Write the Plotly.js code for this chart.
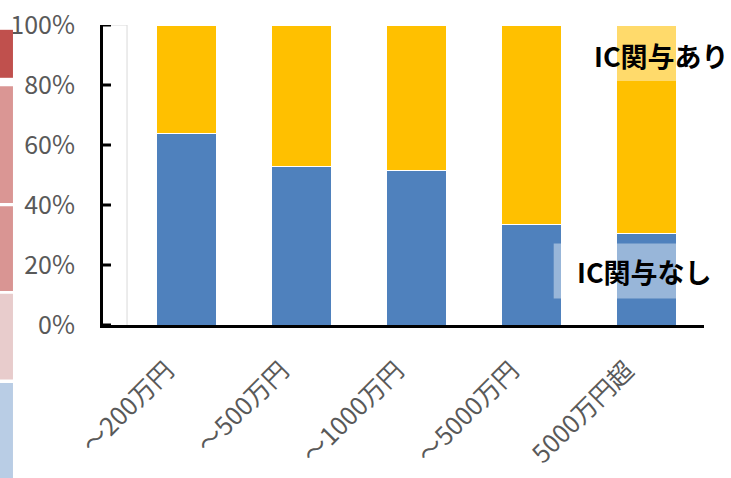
<!DOCTYPE html>
<html>
<head>
<meta charset="utf-8">
<script src="https://cdn.plot.ly/plotly-3.0.1.min.js"></script>
<style>html,body{margin:0;padding:0;background:#fff;}#chart{width:731px;height:478px;}</style>
</head>
<body>
<div id="chart"></div>
<script>
// Data
const categories = ["～200万円", "～500万円", "～1000万円", "～5000万円", "5000万円超"];
const icNone = [0.64, 0.53, 0.515, 0.335, 0.305];   // IC関与なし
const icWith = icNone.map(v => 1 - v);               // IC関与あり (remainder to 100%)
const seriesNames = ["IC関与なし", "IC関与あり"];
const yTicks = [0, 0.2, 0.4, 0.6, 0.8, 1.0];

const font = "'Noto Sans CJK JP', 'Noto Sans', sans-serif";
const idx = categories.map((_, i) => i);

const traces = [
  {type: "bar", x: idx, y: icNone, name: seriesNames[0], width: 0.53,
   marker: {color: "#4F81BD", line: {color: "#FFFFFF", width: 1}}, hoverinfo: "skip"},
  {type: "bar", x: idx, y: icWith, name: seriesNames[1], width: 0.53,
   marker: {color: "#FFC000", line: {color: "#FFFFFF", width: 1}}, hoverinfo: "skip"}
];

const stripX0 = -0.1714, stripX1 = -0.1498;
const strips = [
  [0.984, 0.824, "#C0504D"],
  [0.796, 0.407, "#DA9694"],
  [0.396, 0.113, "#D99593"],
  [0.104, -0.182, "#E8CCCC"],
  [-0.193, -0.51, "#B9CDE5"]
];
const shapes = strips.map(s => ({type: "rect", xref: "paper", yref: "paper",
  x0: stripX0, x1: stripX1, y0: s[1], y1: s[0], fillcolor: s[2], line: {width: 0}, layer: "above"}));

// light grey frame line
shapes.push({type: "line", xref: "x", yref: "y", x0: -0.517, x1: -0.517, y0: 0, y1: 1,
  line: {color: "#D9D9D9", width: 1}, layer: "below"});
shapes.push({type: "line", xref: "x", yref: "y", x0: -0.656, x1: -0.517, y0: 1, y1: 1,
  line: {color: "#D9D9D9", width: 1}, layer: "below"});

// black tick marks on the value axis
yTicks.forEach(v => shapes.push({type: "line", xref: "paper", yref: "y", x0: 0, x1: 0.0133, y0: v, y1: v,
  line: {color: "#000000", width: 3}, layer: "above"}));

// semi-transparent label backgrounds
shapes.push({type: "rect", xref: "x", yref: "y", x0: 3.72, x1: 4.265, y0: 0.813, y1: 1,
  fillcolor: "rgba(255,255,255,0.42)", line: {width: 0}, layer: "above"});
shapes.push({type: "rect", xref: "x", yref: "y", x0: 3.193, x1: 4.265, y0: 0.088, y1: 0.272,
  fillcolor: "rgba(255,255,255,0.42)", line: {width: 0}, layer: "above"});

const annotations = [
  {x: 4.13, y: 0.898, xref: "x", yref: "y", text: "<b>" + seriesNames[1] + "</b>", showarrow: false,
   font: {family: font, size: 27, color: "#000000"}},
  {x: 3.985, y: 0.178, xref: "x", yref: "y", text: "<b>" + seriesNames[0] + "</b>", showarrow: false,
   font: {family: font, size: 27, color: "#000000"}}
];

const layout = {
  width: 731, height: 478,
  margin: {l: 103, r: 27, t: 25, b: 153, pad: 0},
  paper_bgcolor: "#FFFFFF", plot_bgcolor: "#FFFFFF",
  barmode: "stack",
  showlegend: false,
  font: {family: font, color: "#595959"},
  xaxis: {
    range: [-0.726, 4.5],
    tickmode: "array", tickvals: idx, ticktext: categories,
    tickangle: -45, ticks: "",
    ticklabelstandoff: 18, ticklabelshift: -20,
    tickfont: {family: font, size: 25, color: "#595959"},
    showline: true, linecolor: "#000000", linewidth: 3,
    showgrid: false, zeroline: false, fixedrange: true
  },
  yaxis: {
    range: [0, 1],
    tickmode: "array", tickvals: yTicks, ticktext: yTicks.map(v => Math.round(v * 100) + "%"),
    ticks: "",
    ticklabelstandoff: 20,
    tickfont: {family: font, size: 25, color: "#595959"},
    showline: true, linecolor: "#000000", linewidth: 3,
    showgrid: false, zeroline: false, fixedrange: true
  },
  shapes: shapes,
  annotations: annotations
};

Plotly.newPlot("chart", traces, layout, {displayModeBar: false, staticPlot: true});
</script>
</body>
</html>
